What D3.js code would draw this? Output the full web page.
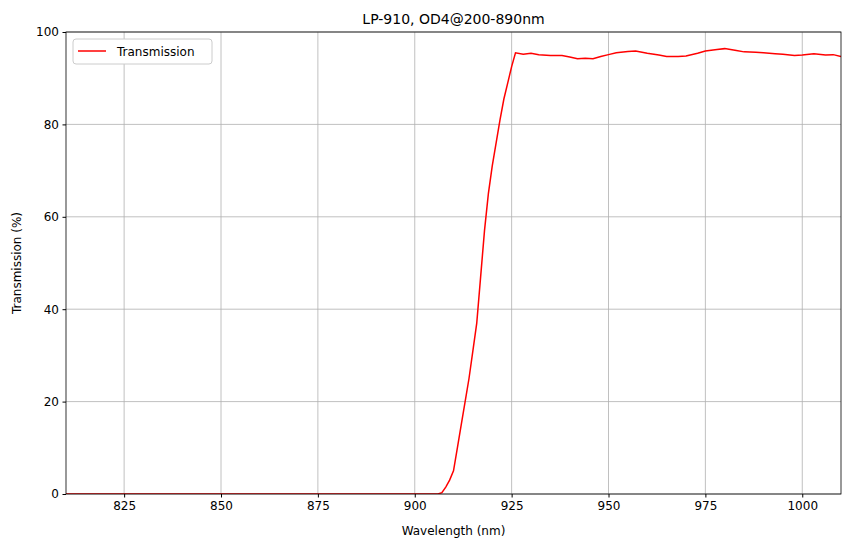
<!DOCTYPE html><html><head><script src="https://cdn.jsdelivr.net/npm/d3@7"></script>
<style>body{margin:0;background:#fff}text{font-family:"DejaVu Sans",sans-serif}</style></head><body><svg id="c" width="850" height="547"></svg>
<script>
const wavelength=[810,850,900,905,906,907,908,909,910,911,912,913,914,915,916,917,918,919,920,921,922,923,924,925,926,928,930,932,935,938,940,942,944,946,948,950,952,955,957,960,963,965,968,970,973,975,978,980,983,985,988,990,993,995,998,1000,1003,1006,1008,1010];
const transmission=[0,0,0,0,0,0.3,1.5,3,5,10,15,20,25,31,37,47,57,65,71,76,81,85.5,89,92.5,95.5,95.2,95.4,95.1,94.9,94.9,94.6,94.2,94.3,94.2,94.7,95.1,95.5,95.8,95.9,95.4,95,94.7,94.7,94.8,95.4,95.9,96.2,96.4,96,95.7,95.6,95.5,95.3,95.2,94.9,95,95.3,95,95.1,94.7];
const xTicks=[825,850,875,900,925,950,975,1000];
const yTicks=[0,20,40,60,80,100];
const svg=d3.select("#c"),L=66,R=841,T=32,B=494;
const x=d3.scaleLinear().domain([810,1010]).range([L,R]);
const y=d3.scaleLinear().domain([0,100]).range([B,T]);
const g=svg.append("g");
xTicks.forEach(t=>g.append("line").attr("x1",x(t)).attr("x2",x(t)).attr("y1",T).attr("y2",B).attr("stroke","#b0b0b0").attr("stroke-width",0.8));
yTicks.forEach(t=>g.append("line").attr("x1",L).attr("x2",R).attr("y1",y(t)).attr("y2",y(t)).attr("stroke","#b0b0b0").attr("stroke-width",0.8));
svg.append("defs").append("clipPath").attr("id","cp").append("rect").attr("x",L).attr("y",T).attr("width",R-L).attr("height",B-T);
svg.append("path").datum(wavelength.map((w,i)=>[w,transmission[i]])).attr("clip-path","url(#cp)")
 .attr("d",d3.line().x(d=>x(d[0])).y(d=>y(d[1]))).attr("fill","none").attr("stroke","red").attr("stroke-width",1.5);
svg.append("rect").attr("x",L).attr("y",T).attr("width",R-L).attr("height",B-T).attr("fill","none").attr("stroke","#000").attr("stroke-width",0.8);
const xa=svg.append("g").attr("transform",`translate(0,${B})`).call(d3.axisBottom(x).tickValues(xTicks).tickFormat(d3.format("d")).tickSize(3.5).tickPadding(3.5));
const ya=svg.append("g").attr("transform",`translate(${L},0)`).call(d3.axisLeft(y).tickValues(yTicks).tickFormat(d3.format("d")).tickSize(3.5).tickPadding(3.5));
[xa,ya].forEach(a=>{a.select(".domain").remove();a.selectAll("text").attr("font-size",12).attr("fill","#000").style("font-family","DejaVu Sans");});
svg.append("text").attr("x",(L+R)/2).attr("y",24).attr("text-anchor","middle").attr("font-size",14).text("LP-910, OD4@200-890nm");
svg.append("text").attr("x",(L+R)/2).attr("y",535).attr("text-anchor","middle").attr("font-size",12).text("Wavelength (nm)");
svg.append("text").attr("transform",`translate(21,${(T+B)/2}) rotate(-90)`).attr("text-anchor","middle").attr("font-size",12).text("Transmission (%)");
const lg=svg.append("g");
lg.append("rect").attr("x",73).attr("y",39).attr("width",139).attr("height",25).attr("rx",3).attr("fill","#fff").attr("stroke","#ccc");
lg.append("line").attr("x1",78).attr("x2",106).attr("y1",51).attr("y2",51).attr("stroke","red").attr("stroke-width",1.5);
lg.append("text").attr("x",117).attr("y",56).attr("font-size",12).text("Transmission");
</script></body></html>
